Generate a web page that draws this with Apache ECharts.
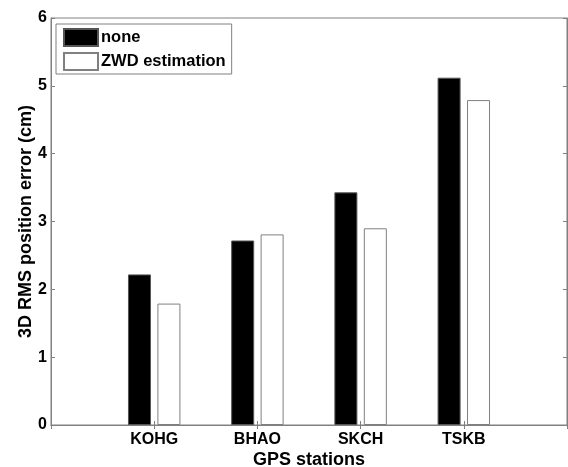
<!DOCTYPE html>
<html>
<head>
<meta charset="utf-8">
<script src="https://cdn.jsdelivr.net/npm/echarts@6/dist/echarts.min.js"></script>
<style>
  html, body { margin: 0; padding: 0; background: #fff; }
  #main { width: 568px; height: 467px; }
</style>
</head>
<body>
<div id="main"></div>
<script>
// stations (empty slots at both ends pad the axis like the original plot)
const stations = ['', 'KOHG', 'BHAO', 'SKCH', 'TSKB', ''];
const noneVals = [null, 2.22, 2.72, 3.43, 5.12, null];
const zwdVals = [null, 1.79, 2.81, 2.90, 4.79, null];
const yTicks = [0, 1, 2, 3, 4, 5, 6];

const font = 'Arial, "Liberation Sans", Helvetica, sans-serif';
const axisGray = '#808080';

const chart = echarts.init(document.getElementById('main'), null, { renderer: 'canvas' });

const option = {
  animation: false,
  backgroundColor: '#fff',
  textStyle: { fontFamily: font },
  grid: {
    left: 51, right: 1, top: 18, bottom: 42,
    show: true, borderColor: axisGray, borderWidth: 1,
    containLabel: false,
    outerBoundsMode: 'none'
  },
  legend: {
    orient: 'vertical',
    left: 56, top: 24,
    padding: [4, 6, 3, 7],
    itemGap: 5,
    itemWidth: 34, itemHeight: 17,
    icon: 'rect',
    borderColor: axisGray, borderWidth: 1,
    backgroundColor: '#fff',
    textStyle: { fontFamily: font, fontWeight: 'bold', fontSize: 16.5, lineHeight: 17, color: '#000', padding: [0, 0, 0, -2] },
    data: ['none', 'ZWD estimation']
  },
  xAxis: [
    {
      type: 'category',
      data: stations,
      boundaryGap: false,
      name: 'GPS stations',
      nameLocation: 'middle',
      nameGap: 26,
      nameMoveOverlap: false,
      nameTextStyle: { fontFamily: font, fontWeight: 'bold', fontSize: 18, color: '#000' },
      axisLine: { lineStyle: { color: axisGray } },
      axisTick: { inside: true, length: 4, lineStyle: { color: axisGray } },
      axisLabel: { fontFamily: font, fontWeight: 'bold', fontSize: 16, color: '#000', margin: 7, interval: 0 },
      splitLine: { show: false }
    },
    {
      type: 'category',
      data: stations,
      boundaryGap: false,
      position: 'top',
      axisLine: { lineStyle: { color: axisGray } },
      axisTick: { inside: true, length: 4, lineStyle: { color: axisGray } },
      axisLabel: { show: false },
      splitLine: { show: false }
    }
  ],
  yAxis: [
    {
      type: 'value',
      min: yTicks[0], max: yTicks[yTicks.length - 1], interval: 1,
      name: '3D RMS position error (cm)',
      nameLocation: 'middle',
      nameGap: 16,
      nameMoveOverlap: false,
      nameTextStyle: { fontFamily: font, fontWeight: 'bold', fontSize: 18, color: '#000' },
      axisLine: { show: true, lineStyle: { color: axisGray } },
      axisTick: { show: true, inside: true, length: 4, lineStyle: { color: axisGray } },
      axisLabel: { fontFamily: font, fontWeight: 'bold', fontSize: 16, color: '#000', margin: 4 },
      splitLine: { show: false }
    },
    {
      type: 'value',
      min: yTicks[0], max: yTicks[yTicks.length - 1], interval: 1,
      position: 'right',
      axisLine: { show: true, lineStyle: { color: axisGray } },
      axisTick: { show: true, inside: true, length: 4, lineStyle: { color: axisGray } },
      axisLabel: { show: false },
      splitLine: { show: false }
    }
  ],
  series: [
    {
      name: 'none',
      type: 'bar',
      data: noneVals,
      barWidth: 23,
      barGap: '28%',
      itemStyle: { color: '#000', borderColor: '#555', borderWidth: 1 }
    },
    {
      name: 'ZWD estimation',
      type: 'bar',
      data: zwdVals,
      barWidth: 23,
      barGap: '28%',
      itemStyle: { color: '#fff', borderColor: axisGray, borderWidth: 1 }
    }
  ]
};

chart.setOption(option);
</script>
</body>
</html>
